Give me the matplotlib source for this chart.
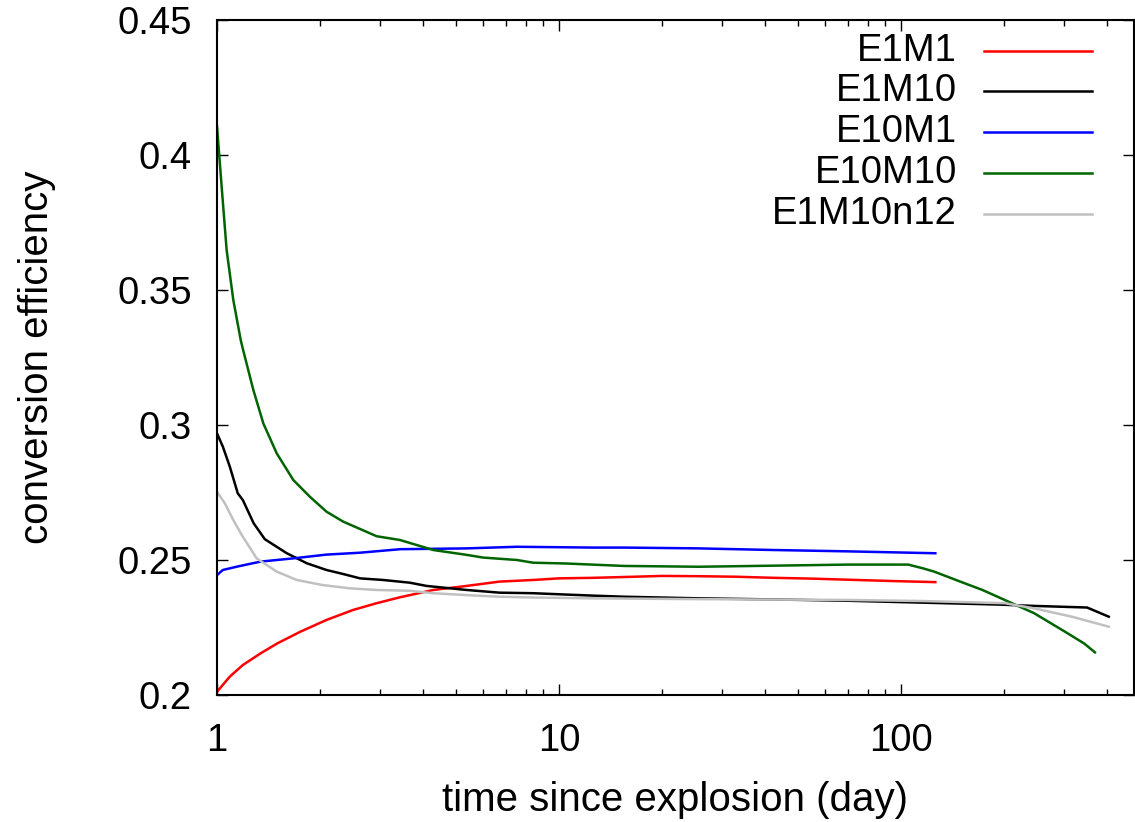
import matplotlib
matplotlib.use("Agg")
import matplotlib.pyplot as plt
from matplotlib.ticker import LogLocator, NullFormatter, FuncFormatter

plt.rcParams["font.family"] = ["Liberation Sans", "DejaVu Sans"]

# conversion efficiency vs time (days), one model per series
t_e1m1 = [1, 1.09, 1.19, 1.34, 1.5, 1.75, 2.09, 2.5, 2.93, 3.43, 4.29, 5.37, 6.7, 8.4, 10,
          12.6, 15.5, 20, 25.6, 33, 42.4, 55, 70, 95, 126]
eff_e1m1 = [0.2012, 0.2068, 0.2111, 0.2154, 0.2191, 0.2234, 0.2278, 0.2315, 0.234, 0.2362,
            0.2389, 0.2404, 0.242, 0.2426, 0.2432, 0.2434, 0.2437, 0.2441, 0.244, 0.2438,
            0.2434, 0.2431, 0.2427, 0.2422, 0.2418]

t_e1m10 = [1, 1.04, 1.09, 1.15, 1.19, 1.28, 1.38, 1.6, 1.83, 2.09, 2.34, 2.62, 3.06, 3.66,
           4.1, 5.37, 6.7, 8.4, 10.5, 12.6, 15.5, 25.6, 42.4, 70, 116, 192, 245, 350, 405]
eff_e1m10 = [0.2969, 0.292, 0.2846, 0.2747, 0.2722, 0.2636, 0.2577, 0.2525, 0.2488, 0.2463,
             0.2448, 0.2432, 0.2426, 0.2416, 0.2404, 0.2389, 0.2379, 0.2377, 0.2372, 0.2368,
             0.2364, 0.2358, 0.2354, 0.2349, 0.2342, 0.2335, 0.233, 0.2324, 0.229]

t_e10m1 = [1, 1.04, 1.14, 1.34, 1.67, 2.09, 2.62, 3.43, 5.37, 7.53, 12.6, 15.5, 25.6, 42.4,
           70, 126]
eff_e10m1 = [0.2444, 0.2463, 0.2475, 0.2494, 0.2506, 0.252, 0.2527, 0.254, 0.2543, 0.2549,
             0.2546, 0.2546, 0.2543, 0.2537, 0.2532, 0.2525]

t_e10m10 = [1, 1.03, 1.067, 1.116, 1.173, 1.189, 1.277, 1.366, 1.495, 1.672, 1.87, 2.09, 2.34,
            2.93, 3.43, 4.29, 5.37, 6.0, 7.53, 8.4, 10.5, 15.5, 25.6, 42.4, 70, 105, 116, 125,
            149, 173, 201, 245, 302, 343, 369]
eff_e10m10 = [0.4107, 0.3895, 0.3648, 0.3463, 0.3315, 0.3284, 0.313, 0.3006, 0.2895, 0.2796,
              0.2734, 0.2679, 0.2642, 0.2588, 0.2574, 0.2537, 0.2519, 0.2509, 0.25, 0.249,
              0.2487, 0.2478, 0.2475, 0.2479, 0.2483, 0.2483, 0.2469, 0.2457, 0.242, 0.2389,
              0.2352, 0.2303, 0.2234, 0.2191, 0.2158]

t_e1m10n12 = [1, 1.055, 1.116, 1.181, 1.306, 1.495, 1.71, 2.04, 2.45, 2.93, 3.66, 4.29, 5.37,
              6.7, 8.4, 12.6, 25.6, 70, 116, 201, 245, 316, 405]
eff_e1m10n12 = [0.2753, 0.2709, 0.2648, 0.2593, 0.2506, 0.2457, 0.2426, 0.2407, 0.2395,
                0.2389, 0.2386, 0.2377, 0.237, 0.2364, 0.2361, 0.2358, 0.2355, 0.2352, 0.2348,
                0.234, 0.2321, 0.229, 0.2253]

labels = ["E1M1", "E1M10", "E10M1", "E10M10", "E1M10n12"]
colors = ["#ff0000", "#000000", "#0000ff", "#006400", "#c0c0c0"]
series = [(t_e1m1, eff_e1m1), (t_e1m10, eff_e1m10), (t_e10m1, eff_e10m1),
          (t_e10m10, eff_e10m10), (t_e1m10n12, eff_e1m10n12)]

fig = plt.figure(figsize=(11.35, 8.22), dpi=100)
ax = fig.add_axes([217 / 1135, 127 / 822, 917 / 1135, 675 / 822])

for (t, eff), c in zip(series, colors):
    ax.plot(t, eff, color=c, lw=1.8)

ax.set_xscale("log")
ax.set_xlim(1, 480)
ax.set_ylim(0.2, 0.45)
ax.set_xticks([1, 10, 100])
ax.xaxis.set_major_formatter(FuncFormatter(lambda v, p: "%g" % v))
ax.xaxis.set_minor_locator(LogLocator(base=10, subs=range(2, 10)))
ax.xaxis.set_minor_formatter(NullFormatter())
ax.set_yticks([0.2, 0.25, 0.3, 0.35, 0.4, 0.45])
ax.yaxis.set_major_formatter(FuncFormatter(lambda v, p: "%g" % v))

ax.tick_params(which="both", direction="in", top=True, right=True, labelsize=27.5)
ax.tick_params(which="major", length=8, width=1)
ax.tick_params(which="minor", length=4, width=1)
ax.tick_params(axis="y", pad=18)
ax.tick_params(axis="x", pad=20)
for s in ax.spines.values():
    s.set_linewidth(1.5)

ax.set_xlabel("time since explosion (day)", fontsize=29, labelpad=16)
ax.set_ylabel("conversion efficiency", fontsize=29, labelpad=44)

# key: right-aligned names with a line sample to their right
for i, (lab, c) in enumerate(zip(labels, colors)):
    y = (695 - (50.7 + 40.75 * i)) / 675
    ax.text((957 - 217) / 917, y, lab, transform=ax.transAxes, ha="right", va="center",
            fontsize=27.5)
    ax.plot([(984 - 217) / 917, (1092 - 217) / 917], [y, y], transform=ax.transAxes,
            color=c, lw=1.8)

fig.savefig("out.png", dpi=100)
